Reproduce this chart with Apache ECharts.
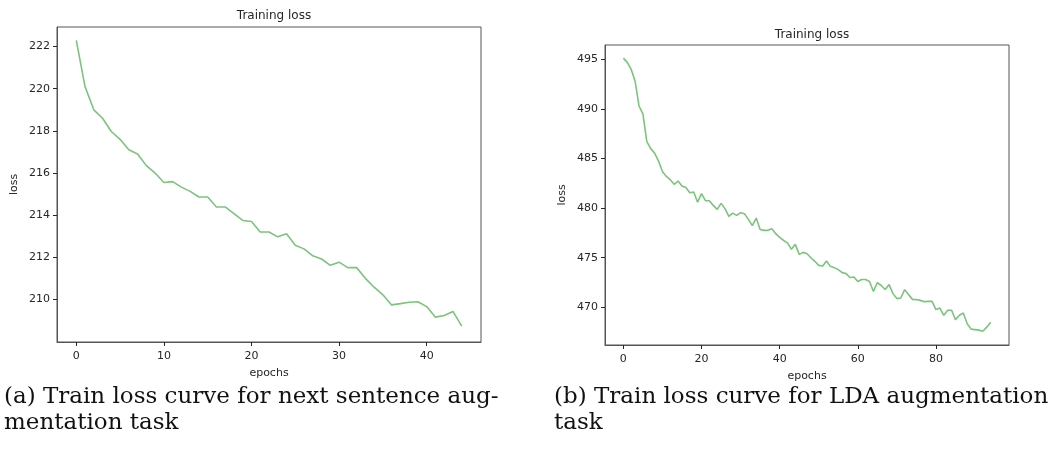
<!DOCTYPE html>
<html lang="en">
<head>
    <meta charset="UTF-8">
    <title>Training loss</title>
    <script type="text/javascript" src="https://cdn.jsdelivr.net/npm/echarts@6/dist/echarts.min.js"></script>
    <style>
        html, body { margin: 0; padding: 0; background: #fff; }
        #main { width: 1056px; height: 454px; }
    </style>
</head>
<body>
<div id="main"></div>

<script type="text/javascript">

    // (a) next sentence augmentation, 45 epochs
    var lossA = [
        222.3, 220.1, 219.0, 218.6, 217.97, 217.6, 217.1, 216.9, 216.35, 216.0,
        215.55, 215.59, 215.33, 215.13, 214.86, 214.86, 214.39, 214.39, 214.07, 213.75,
        213.7, 213.2, 213.2, 212.97, 213.12, 212.57, 212.4, 212.07, 211.92, 211.62,
        211.77, 211.51, 211.51, 211.0, 210.58, 210.22, 209.74, 209.8, 209.87, 209.89,
        209.66, 209.16, 209.24, 209.43, 208.73
    ];

    // (b) LDA augmentation, 95 epochs
    var lossB = [
        495.13, 494.7, 494.0, 492.8, 490.3, 489.5, 486.7, 486.0, 485.55, 484.75,
        483.7, 483.2, 482.87, 482.4, 482.73, 482.23, 482.07, 481.56, 481.62, 480.6,
        481.46, 480.75, 480.75, 480.28, 479.88, 480.48, 479.95, 479.17, 479.5, 479.27,
        479.54, 479.44, 478.87, 478.24, 479.0, 477.85, 477.76, 477.76, 477.92, 477.43,
        477.06, 476.74, 476.5, 475.85, 476.35, 475.34, 475.54, 475.4, 475.0, 474.64,
        474.23, 474.16, 474.67, 474.13, 474.0, 473.8, 473.5, 473.4, 473.0, 473.05,
        472.6, 472.8, 472.8, 472.6, 471.6, 472.5, 472.2, 471.8, 472.29, 471.38,
        470.88, 470.94, 471.78, 471.28, 470.8, 470.78, 470.7, 470.57, 470.6, 470.6,
        469.77, 469.93, 469.2, 469.7, 469.7, 468.76, 469.2, 469.43, 468.35, 467.8,
        467.75, 467.7, 467.58, 468.0, 468.5
    ];

    var ticksAx = [0, 10, 20, 30, 40];
    var ticksAy = [210, 212, 214, 216, 218, 220, 222];
    var ticksBx = [0, 20, 40, 60, 80];
    var ticksBy = [470, 475, 480, 485, 490, 495];

    var captionA = ['(a) Train loss curve for next sentence aug-', 'mentation task'];
    var captionB = ['(b) Train loss curve for LDA augmentation', 'task'];

    var lineColor = '#7cc47d';
    var textColor = '#262626';
    var frameColor = '#555';

    function toPoints(arr) {
        return arr.map(function (v, i) { return [i, v]; });
    }

    function xAxisFor(idx, min, max, ticks) {
        return {
            type: 'value', gridIndex: idx, min: min, max: max,
            name: 'epochs', nameLocation: 'middle', nameGap: 26,
            nameTextStyle: { fontFamily: 'DejaVu Sans', fontSize: 11, color: textColor },
            axisLine: { show: true, onZero: false, lineStyle: { color: frameColor } },
            axisTick: { show: true, length: 4, customValues: ticks, lineStyle: { color: textColor } },
            axisLabel: { customValues: ticks, margin: 9, fontFamily: 'DejaVu Sans', fontSize: 11, color: textColor },
            splitLine: { show: false }
        };
    }

    function yAxisFor(idx, min, max, ticks) {
        return {
            type: 'value', gridIndex: idx, min: min, max: max,
            name: 'loss', nameLocation: 'middle', nameGap: 37,
            nameTextStyle: { fontFamily: 'DejaVu Sans', fontSize: 11, color: textColor },
            axisLine: { show: true, onZero: false, lineStyle: { color: frameColor } },
            axisTick: { show: true, length: 4, customValues: ticks, lineStyle: { color: textColor } },
            axisLabel: { customValues: ticks, margin: 7, fontFamily: 'DejaVu Sans', fontSize: 11, color: textColor },
            splitLine: { show: false }
        };
    }

    function captionText(lines, left, top) {
        return lines.map(function (t, i) {
            return {
                type: 'text', left: left, top: top + i * 26,
                style: { text: t, font: '23px "DejaVu Serif"', fill: '#111' }
            };
        });
    }

    var chart = echarts.init(document.getElementById('main'));

    var option = {
        animation: false,
        title: [
            { text: 'Training loss', left: 269, top: 5, textAlign: 'center',
              textStyle: { fontFamily: 'DejaVu Sans', fontSize: 12, fontWeight: 'normal', color: textColor } },
            { text: 'Training loss', left: 807, top: 24, textAlign: 'center',
              textStyle: { fontFamily: 'DejaVu Sans', fontSize: 12, fontWeight: 'normal', color: textColor } }
        ],
        grid: [
            { left: 57, right: 575, top: 27, bottom: 112, show: true, borderColor: frameColor, borderWidth: 1 },
            { left: 605, right: 47, top: 45, bottom: 109, show: true, borderColor: frameColor, borderWidth: 1 }
        ],
        xAxis: [
            xAxisFor(0, -2.2, 46.2, ticksAx),
            xAxisFor(1, -4.7, 98.7, ticksBx)
        ],
        yAxis: [
            yAxisFor(0, 207.98, 222.93, ticksAy),
            yAxisFor(1, 466.2, 496.45, ticksBy)
        ],
        series: [
            { type: 'line', xAxisIndex: 0, yAxisIndex: 0, data: toPoints(lossA), showSymbol: false,
              lineStyle: { color: lineColor, width: 1.6 } },
            { type: 'line', xAxisIndex: 1, yAxisIndex: 1, data: toPoints(lossB), showSymbol: false,
              lineStyle: { color: lineColor, width: 1.6 } }
        ],
        graphic: captionText(captionA, 4, 386).concat(captionText(captionB, 554, 386))
    };

    chart.setOption(option);
</script>
</body>
</html>
